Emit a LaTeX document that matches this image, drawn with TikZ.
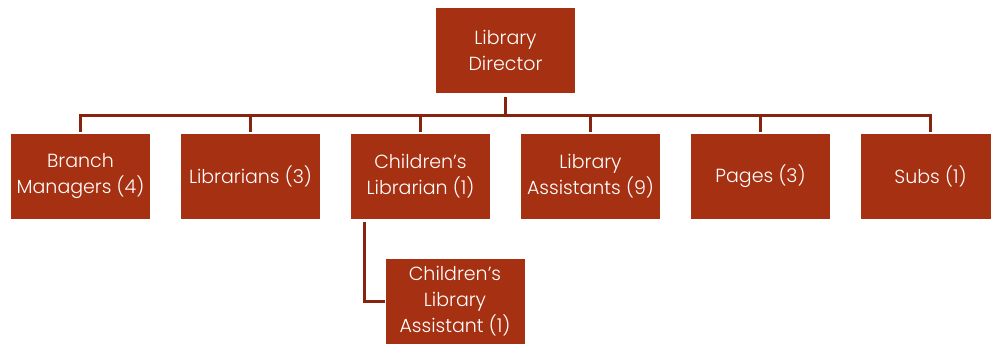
\documentclass[tikz,border=0pt]{standalone}
\usepackage{fontspec}
\setmainfont{Poppins Light}
\definecolor{boxfill}{RGB}{166,48,18}
\definecolor{linecol}{RGB}{135,36,16}
\begin{document}
\begin{tikzpicture}[x=1pt,y=-1pt,
  orgbox/.style={fill=boxfill,text=white,minimum width=139pt,minimum height=85pt,inner sep=0pt,align=center,font=\fontsize{19}{26}\selectfont},
  conn/.style={draw=linecol,line width=3pt}]
\useasboundingbox (0,0) rectangle (991,343);
\node[orgbox] (dir) at (505.5,50.5) {Library\\Director};
\node[orgbox] (b1) at (80.5,176) {Branch\\Managers (4)};
\node[orgbox] (b2) at (250.5,176) {Librarians (3)};
\node[orgbox] (b3) at (420.5,176) {Children’s\\Librarian (1)};
\node[orgbox] (b4) at (590.5,176) {Library\\Assistants (9)};
\node[orgbox] (b5) at (760.5,176) {Pages (3)};
\node[orgbox] (b6) at (930.5,176) {Subs (1)};
\node[orgbox] (ca) at (455,301.5) {Children’s\\Library\\Assistant (1)};
\coordinate (bar) at (505.5,115);
\draw[conn,shorten <=4pt] (dir.south) -- (bar);
\draw[conn,line cap=rect] (bar -| b1) -- (bar -| b6);
\foreach \b in {b1,b2,b3,b4,b5,b6}
  \draw[conn,shorten >=1.5pt] (bar -| \b) -- (\b.north);
\coordinate (k) at ([xshift=13.5pt]b3.south west);
\draw[conn,shorten <=3pt] (k) |- (ca.west);
\end{tikzpicture}
\end{document}
